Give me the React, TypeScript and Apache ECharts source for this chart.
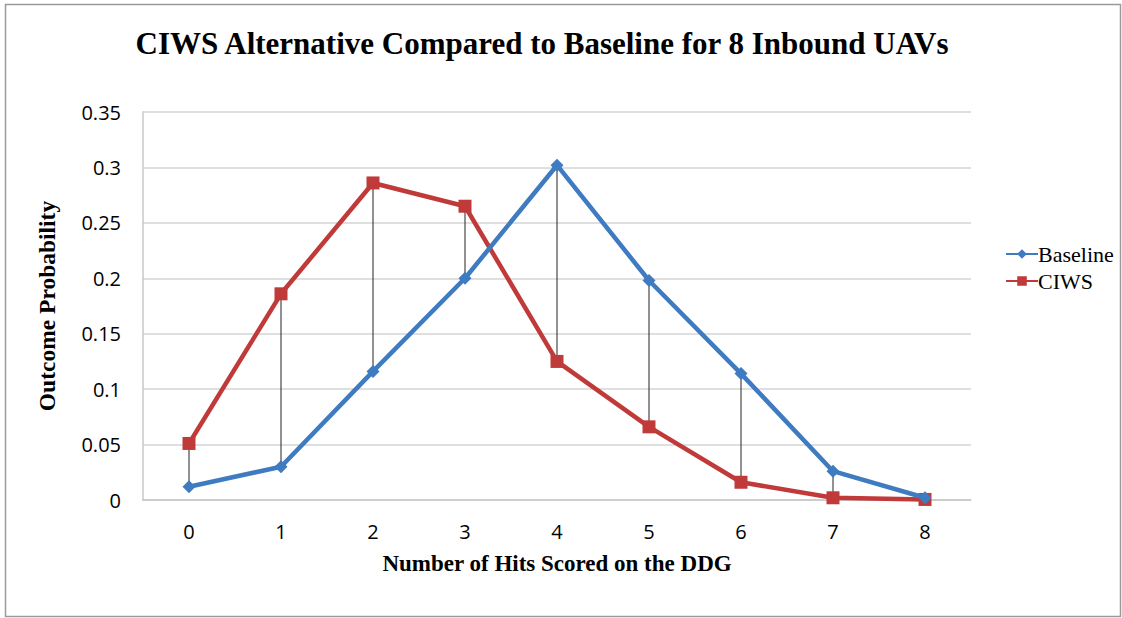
import React, { useEffect, useRef } from "react";
import * as echarts from "echarts";

const categories = ["0", "1", "2", "3", "4", "5", "6", "7", "8"];
const baseline = [0.012, 0.03, 0.116, 0.2, 0.302, 0.198, 0.114, 0.026, 0.002];
const ciws = [0.051, 0.186, 0.286, 0.265, 0.125, 0.066, 0.016, 0.002, 0.0005];
const yTicks = { min: 0, max: 0.35, interval: 0.05 };

const BLUE = "#3F7BC1";
const RED = "#C13A3A";
const SERIF = "'Liberation Serif', 'Times New Roman', serif";
const SANS = "'Open Sans', 'Liberation Sans', sans-serif";

export default function App() {
  const ref = useRef<HTMLDivElement>(null);
  useEffect(() => {
    document.body.style.margin = "0";
    const chart = echarts.init(ref.current!, null, { renderer: "svg" });
    const dropData = categories.map((c, i) => [i, baseline[i], ciws[i]]);
    chart.setOption({
      animation: false,
      backgroundColor: "#ffffff",
      title: {
        text: "CIWS Alternative Compared to Baseline for 8 Inbound UAVs",
        left: 537,
        top: 23,
        textAlign: "center",
        textStyle: { fontFamily: SERIF, fontWeight: "bold", fontSize: 31, color: "#000" },
      },
      graphic: [
        {
          type: "rect",
          shape: { x: 5.5, y: 4.5, width: 1115, height: 612 },
          style: { fill: "none", stroke: "#9a9a9a", lineWidth: 1.5 },
          silent: true,
        },
      ],
      legend: {
        orient: "vertical",
        left: 1000,
        top: 238,
        itemGap: 5,
        itemWidth: 32,
        itemHeight: 12,
        textStyle: { fontFamily: SERIF, fontSize: 22, color: "#000", padding: [0, 0, 0, -5] },
        data: ["Baseline", "CIWS"],
      },
      grid: { left: 143, right: 151, top: 112, bottom: 118, containLabel: false },
      xAxis: {
        type: "category",
        data: categories,
        boundaryGap: true,
        name: "Number of Hits Scored on the DDG",
        nameLocation: "middle",
        nameGap: 52,
        nameTextStyle: { fontFamily: SERIF, fontWeight: "bold", fontSize: 23, color: "#000" },
        axisLine: { show: true, lineStyle: { color: "#c8c8c8", width: 1.5 } },
        axisTick: { show: false },
        axisLabel: { fontFamily: SANS, fontSize: 20, color: "#000", margin: 21 },
        splitLine: { show: false },
      },
      yAxis: {
        type: "value",
        min: yTicks.min,
        max: yTicks.max,
        interval: yTicks.interval,
        name: "Outcome Probability",
        nameLocation: "middle",
        nameGap: 84,
        nameRotate: 90,
        nameTextStyle: { fontFamily: SERIF, fontWeight: "bold", fontSize: 23.5, color: "#000" },
        axisLine: { show: true, lineStyle: { color: "#c8c8c8", width: 1.5 } },
        axisTick: { show: false },
        axisLabel: {
          fontFamily: SANS,
          fontSize: 20,
          color: "#000",
          margin: 22,
          formatter: (v: number) => String(parseFloat(v.toFixed(2))),
        },
        splitLine: { show: true, lineStyle: { color: "#d4d4d4", width: 1.5 } },
      },
      series: [
        {
          type: "custom",
          name: "drop",
          silent: true,
          z: 1,
          renderItem: (params: any, api: any) => {
            const x = api.value(0);
            const p1 = api.coord([x, api.value(1)]);
            const p2 = api.coord([x, api.value(2)]);
            return {
              type: "line",
              shape: { x1: p1[0], y1: p1[1], x2: p2[0], y2: p2[1] },
              style: { stroke: "#222", lineWidth: 1 },
            };
          },
          data: dropData,
          encode: { x: 0, y: [1, 2] },
        },
        {
          type: "line",
          name: "Baseline",
          data: baseline,
          z: 3,
          symbol: "diamond",
          symbolSize: 13,
          lineStyle: { color: BLUE, width: 4.5 },
          itemStyle: { color: BLUE },
        },
        {
          type: "line",
          name: "CIWS",
          data: ciws,
          z: 2,
          symbol: "rect",
          symbolSize: 13,
          lineStyle: { color: RED, width: 4.5 },
          itemStyle: { color: RED },
        },
      ],
    });
    return () => chart.dispose();
  }, []);
  return <div ref={ref} style={{ width: 1122, height: 618 }} />;
}
